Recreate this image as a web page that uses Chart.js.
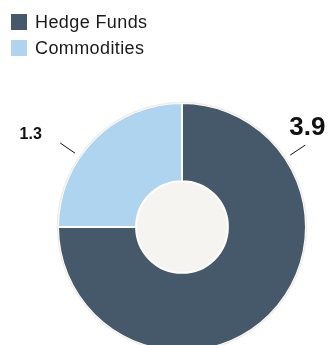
<!DOCTYPE html>
<html>
<head>
<meta charset="utf-8">
<script src="https://cdn.jsdelivr.net/npm/chart.js@4.4.1/dist/chart.umd.min.js"></script>
<style>
    html, body { margin: 0; padding: 0; background: #ffffff; }
    #wrap { position: relative; width: 336px; height: 345px; overflow: hidden; }
    #legend { position: absolute; left: 11px; top: 9px; font-family: "Liberation Sans", Arial, sans-serif; font-size: 18px; color: #1a1a1a; letter-spacing: 0.4px; }
    .item { display: flex; align-items: center; height: 26px; }
    .swatch { width: 16px; height: 16px; margin-right: 8px; }
    #allocChart { position: absolute; left: 0; top: 0; }
</style>
</head>
<body>
<div id="wrap">
    <canvas id="allocChart" width="336" height="360"></canvas>
    <div id="legend"></div>
</div>
<script>
const categories = ['Hedge Funds', 'Commodities'];
const values = [3.9, 1.3];
const valueLabels = ['3.9', '1.3'];
const colors = ['#45596a', '#aed4f0'];

// build the legend from the same arrays as the chart
const legendEl = document.getElementById('legend');
categories.forEach((name, i) => {
    const row = document.createElement('div');
    row.className = 'item';
    row.innerHTML = '<span class="swatch" style="background:' + colors[i] + '"></span>' + name;
    legendEl.appendChild(row);
});

// leader lines and value labels; angle in degrees (canvas orientation)
const labelStyle = [
    { angle: -33.6, font: 'bold 26px "Liberation Sans", Arial, sans-serif', dx: 2, dy: -17 },
    { angle: 214.6, font: 'bold 16px "Liberation Sans", Arial, sans-serif', dx: -29.5, dy: -8.5 }
];

const decorPlugin = {
    id: 'decor',
    beforeDatasetsDraw(chart) {
        const arc = chart.getDatasetMeta(0).data[0];
        const ctx = chart.ctx;
        ctx.save();
        ctx.fillStyle = '#f5f4f0';
        ctx.beginPath();
        ctx.arc(arc.x, arc.y, arc.innerRadius, 0, Math.PI * 2);
        ctx.fill();
        ctx.restore();
    },
    afterDatasetsDraw(chart) {
        const meta = chart.getDatasetMeta(0);
        const arc = meta.data[0];
        const ctx = chart.ctx;
        ctx.save();
        // soft rim round the pie
        ctx.strokeStyle = '#f1eee9';
        ctx.lineWidth = 1.5;
        ctx.beginPath();
        ctx.arc(arc.x, arc.y, arc.outerRadius + 0.5, 0, Math.PI * 2);
        ctx.stroke();

        ctx.strokeStyle = '#111111';
        ctx.lineWidth = 1;
        ctx.fillStyle = '#111111';
        ctx.textAlign = 'center';
        ctx.textBaseline = 'middle';
        labelStyle.forEach((s, i) => {
            const a = s.angle * Math.PI / 180;
            const r0 = arc.outerRadius + 6;
            const r1 = arc.outerRadius + 24;
            const x0 = arc.x + Math.cos(a) * r0, y0 = arc.y + Math.sin(a) * r0;
            const x1 = arc.x + Math.cos(a) * r1, y1 = arc.y + Math.sin(a) * r1;
            ctx.beginPath();
            ctx.moveTo(x0, y0);
            ctx.lineTo(x1, y1);
            ctx.stroke();
            ctx.font = s.font;
            ctx.fillText(valueLabels[i], x1 + s.dx, y1 + s.dy);
        });
        ctx.restore();
    }
};

const chart = new Chart(document.getElementById('allocChart'), {
    type: 'doughnut',
    data: {
        labels: categories,
        datasets: [{
            data: values,
            backgroundColor: colors,
            borderColor: '#ffffff',
            borderWidth: 2
        }]
    },
    options: {
        responsive: false,
        animation: false,
        events: [],
        radius: 124,
        cutout: 45.5,
        layout: { padding: { left: 58, right: 30, top: 103, bottom: 9 } },
        plugins: {
            legend: { display: false },
            tooltip: { enabled: false }
        }
    },
    plugins: [decorPlugin]
});
</script>
</body>
</html>
